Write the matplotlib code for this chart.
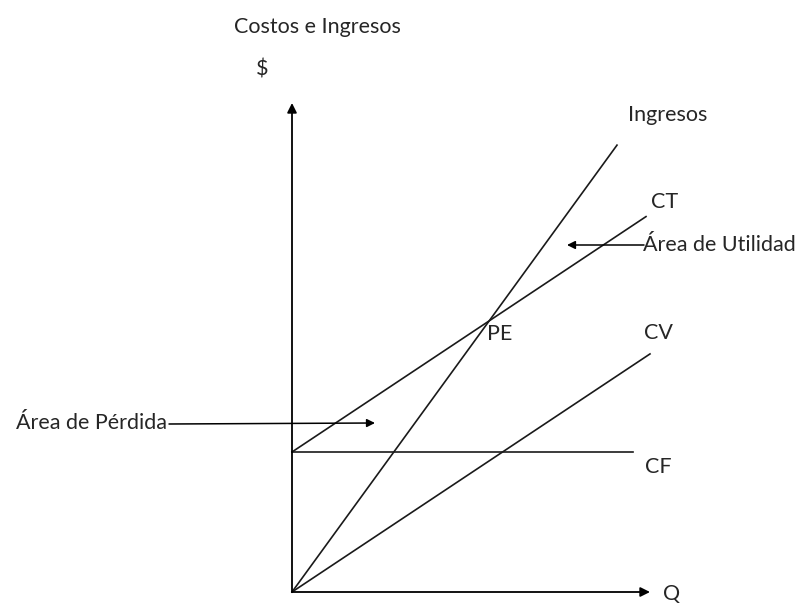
import matplotlib.pyplot as plt

# values (units ~ pixels from the origin)
cf = 140            # costo fijo
v = 0.665           # costo variable unitario
p = 1.375           # precio
q_ingresos = [0, 325]
q_ct = [0, 354]
q_cv = [0, 358]
q_cf = [0, 341]

ingresos = [p * q for q in q_ingresos]
ct = [cf + v * q for q in q_ct]
cv = [v * q for q in q_cv]
cf_line = [cf, cf]
q_pe = cf / (p - v)

plt.rcParams['font.family'] = ['Lato', 'DejaVu Sans']

fig = plt.figure(figsize=(8.01, 6.06), dpi=100)
ax = fig.add_axes([0, 0, 1, 1])
ax.set_xlim(-292, 801 - 292)
ax.set_ylim(-14, 592)
ax.axis("off")

lw = 1.2
col = "#1a1a1a"
ax.plot(q_ingresos, ingresos, color=col, lw=lw)
ax.plot(q_ct, ct, color=col, lw=lw)
ax.plot(q_cv, cv, color=col, lw=lw)
ax.plot(q_cf, cf_line, color=col, lw=lw)

# axes with arrows
arr = dict(arrowstyle="-|>", color="black", lw=1.3, mutation_scale=14,
           shrinkA=0, shrinkB=0)
ax.annotate("", xy=(0, 489), xytext=(0, 0), arrowprops=arr)
ax.annotate("", xy=(358, 0), xytext=(0, 0), arrowprops=arr)

fs = 15.5
tc = "#262626"
ax.text(25, 565, "Costos e Ingresos", fontsize=fs, color=tc, ha="center", va="center")
ax.text(-30, 522, "$", fontsize=fs, color=tc, ha="center", va="center")
ax.text(380, -2, "Q", fontsize=fs, color=tc, ha="center", va="center")
ax.text(376, 477, "Ingresos", fontsize=fs, color=tc, ha="center", va="center")
ax.text(373, 390, "CT", fontsize=fs, color=tc, ha="center", va="center")
ax.text(366, 259, "CV", fontsize=fs, color=tc, ha="center", va="center")
ax.text(366, 125, "CF", fontsize=fs, color=tc, ha="center", va="center")
ax.text(q_pe - 2, p * q_pe - 13, "PE", fontsize=fs, color=tc, ha="left", va="center")

# area labels with arrows
small = dict(arrowstyle="-|>", color="black", lw=1.1, mutation_scale=12,
             shrinkA=0, shrinkB=0)
ax.text(351, 347, "Área de Utilidad", fontsize=fs, color=tc, ha="left", va="center")
ax.annotate("", xy=(275, 347), xytext=(352, 347), arrowprops=small)
ax.text(-125, 169, "Área de Pérdida", fontsize=fs, color=tc, ha="right", va="center")
ax.annotate("", xy=(83, 169), xytext=(-123, 168), arrowprops=small)

fig.savefig("out.png", dpi=100)
